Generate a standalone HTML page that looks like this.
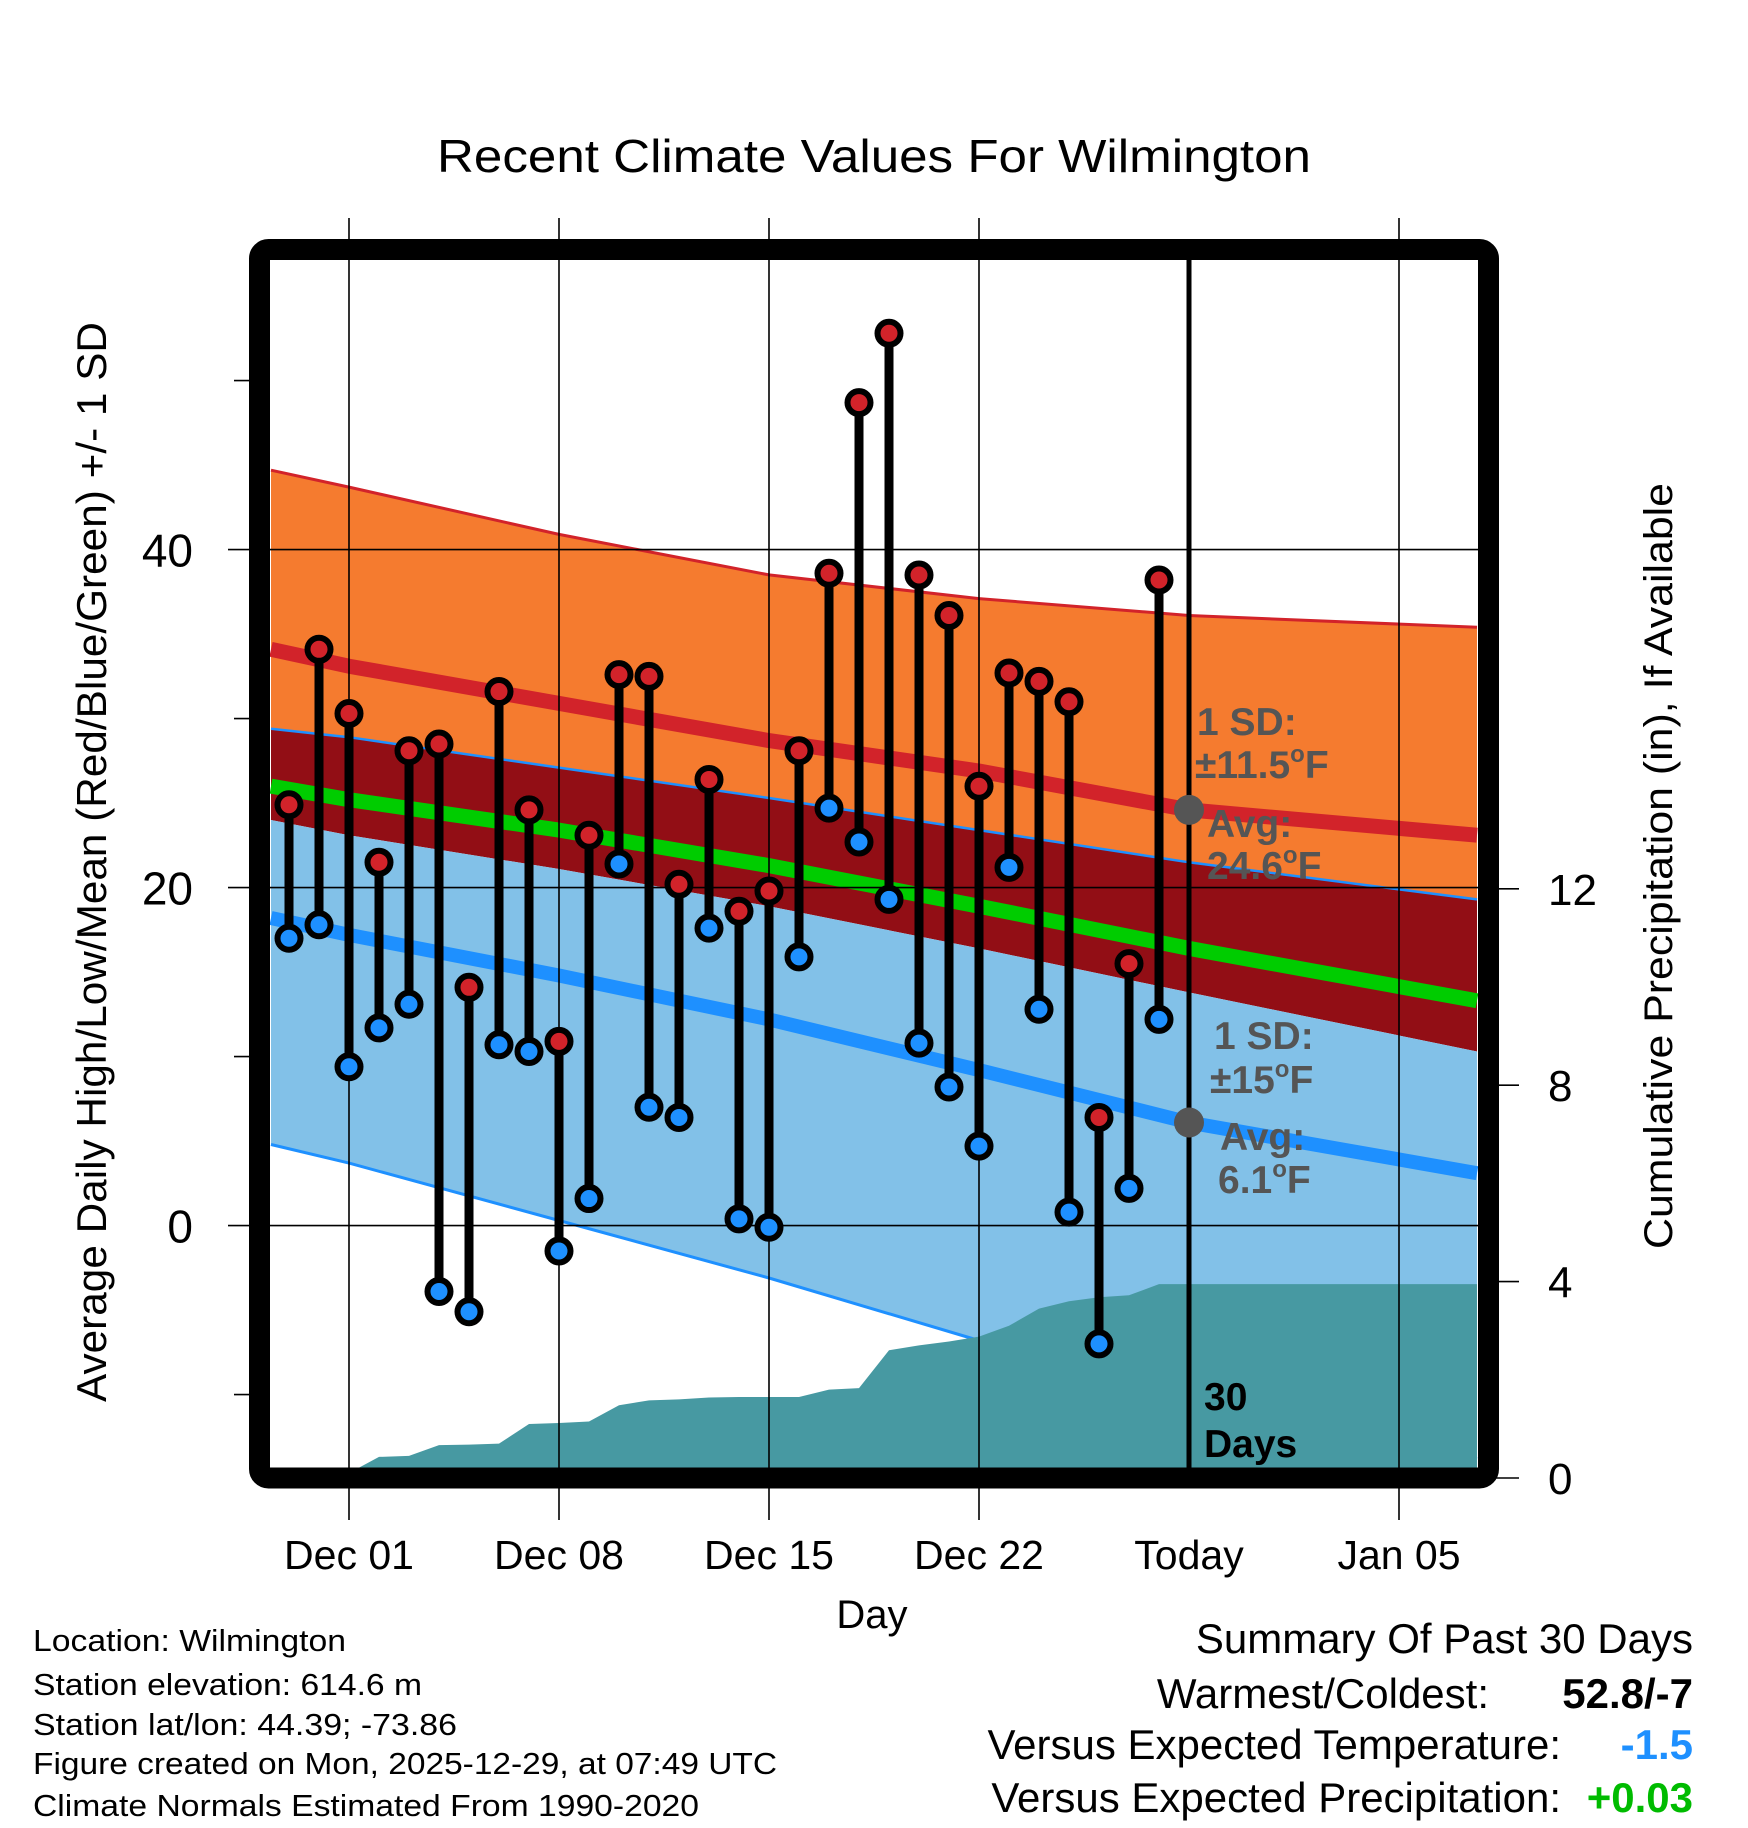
<!DOCTYPE html>
<html><head><meta charset="utf-8"><style>
html,body{margin:0;padding:0;background:#fff;}
svg{display:block;font-family:"Liberation Sans",Arial,sans-serif;}
</style></head><body>
<svg id="chart" width="1748" height="1828" viewBox="0 0 1748 1828" xmlns="http://www.w3.org/2000/svg">
<defs><clipPath id="inner"><rect x="270" y="260" width="1208" height="1208"/></clipPath></defs>
<rect x="0" y="0" width="1748" height="1828" fill="#fff"/>
<text x="874" y="172" font-size="46" text-anchor="middle" textLength="874" lengthAdjust="spacingAndGlyphs">Recent Climate Values For Wilmington</text>
<g id="plot" clip-path="url(#inner)"></g>
<g id="over"></g>
<rect x="259.5" y="249.5" width="1229" height="1228.5" rx="9" fill="none" stroke="#000" stroke-width="21"/>
<g id="axes"></g>
<text transform="translate(106,862) rotate(-90)" font-size="42" text-anchor="middle" textLength="1080" lengthAdjust="spacingAndGlyphs">Average Daily High/Low/Mean (Red/Blue/Green) +/- 1 SD</text>
<text transform="translate(1672,866) rotate(-90)" font-size="40" text-anchor="middle" textLength="766" lengthAdjust="spacingAndGlyphs">Cumulative Precipitation (in), If Available</text>
<text x="872" y="1628" font-size="40" text-anchor="middle">Day</text>
<g font-size="31">
<text x="33" y="1651" textLength="313" lengthAdjust="spacingAndGlyphs">Location: Wilmington</text>
<text x="33" y="1695" textLength="389" lengthAdjust="spacingAndGlyphs">Station elevation: 614.6 m</text>
<text x="33" y="1735" textLength="424" lengthAdjust="spacingAndGlyphs">Station lat/lon: 44.39; -73.86</text>
<text x="33" y="1774" textLength="744" lengthAdjust="spacingAndGlyphs">Figure created on Mon, 2025-12-29, at 07:49 UTC</text>
<text x="33" y="1816" textLength="666" lengthAdjust="spacingAndGlyphs">Climate Normals Estimated From 1990-2020</text>
</g>
<g font-size="42" text-anchor="end">
<text x="1693" y="1653">Summary Of Past 30 Days</text>
<text x="1489" y="1708">Warmest/Coldest:</text>
<text x="1693" y="1708" font-weight="bold">52.8/-7</text>
<text x="1561" y="1759">Versus Expected Temperature:</text>
<text x="1693" y="1759" font-weight="bold" fill="#1e90ff">-1.5</text>
<text x="1561" y="1812">Versus Expected Precipitation:</text>
<text x="1693" y="1812" font-weight="bold" fill="#00bb00">+0.03</text>
</g>
</svg>
<script>
// ---- data ----
const dayLabels = ["Dec 01","Dec 08","Dec 15","Dec 22","Today","Jan 05"];
const dayTicks = [0,7,14,21,28,35];
const obsDays = [-2,-1,0,1,2,3,4,5,6,7,8,9,10,11,12,13,14,15,16,17,18,19,20,21,22,23,24,25,26,27];
const highs = [24.9,34.1,30.3,21.5,28.1,28.5,14.1,31.6,24.6,10.9,23.1,32.6,32.5,20.2,26.4,18.6,19.8,28.1,38.6,48.7,52.8,38.5,36.1,26.0,32.7,32.2,31.0,6.4,15.5,38.2];
const lows = [17.0,17.8,9.4,11.7,13.1,-3.9,-5.1,10.7,10.3,-1.5,1.6,21.4,7.0,6.4,17.6,0.4,-0.1,15.9,24.7,22.7,19.3,10.8,8.2,4.7,21.2,12.8,0.8,-7.0,2.2,12.2];
const bandDays = [-2.6,0,7,14,21,28,37.6];
const highPlusSD = [44.7,43.7,40.9,38.5,37.1,36.1,35.4];
const highMean = [34.1,33.1,30.9,28.7,26.9,24.6,23.1];
const upperThin = [29.4,28.9,27.1,25.3,23.4,21.5,19.3];
const meanTemp = [26.0,25.2,23.4,21.3,18.9,16.4,13.3];
const darkRedBottom = [24.0,23.1,21.1,18.9,16.4,13.8,10.3];
const lowMean = [18.2,17.2,14.8,12.2,9.2,6.1,3.1];
const lowMinusSD = [4.8,3.7,0.3,-3.1,-6.8,-10.4,-13.8];
const precipDays = [0.3,1,2,3,4,5,6,7,8,9,10,11,12,13,14,15,16,17,18,19,20,21,22,23,24,25,26,27,37.6];
const precipVals = [0.2,0.43,0.45,0.67,0.68,0.7,1.1,1.12,1.15,1.48,1.58,1.6,1.64,1.65,1.65,1.65,1.8,1.83,2.6,2.7,2.78,2.88,3.1,3.45,3.6,3.68,3.72,3.95,3.95];
const tempTicks = [0,20,40];
const tempMinor = [-10,10,30,50];
const precipTicks = [0,4,8,12];
const todayDay = 28;

// ---- scales ----
function xs(d){return 349+30*d;}
function ys(t){return 1225.6-16.9*t;}
function yp(p){return 1478-49.1*p;}
const NS="http://www.w3.org/2000/svg";
function mk(tag,attrs,parent){const e=document.createElementNS(NS,tag);for(const k in attrs)e.setAttribute(k,attrs[k]);parent.appendChild(e);return e;}
const plot=document.getElementById('plot'), over=document.getElementById('over'), axes=document.getElementById('axes');
function pts(days,vals,f){return days.map((d,i)=>xs(d).toFixed(1)+','+f(vals[i]).toFixed(1));}
function band(top,bot,fill,name){
  const p=pts(bandDays,top,ys).concat(pts(bandDays,bot,ys).reverse()).join(' ');
  const e=mk('polygon',{points:p,fill:fill},plot);
  
  
}
function line(vals,color,w,name){
  const e=mk('polyline',{points:pts(bandDays,vals,ys).join(' '),fill:'none',stroke:color,'stroke-width':w,'stroke-linejoin':'round'},plot);
  
  
}
band(highPlusSD,upperThin,'#f57b2f','high-sd-band');
band(upperThin,darkRedBottom,'#920e15','mean-sd-band');
band(darkRedBottom,lowMinusSD,'#82c1e8','low-sd-band');
line(highPlusSD,'#d2232a',3,'high-plus-sd-line');
line(highMean,'#d2232a',15,'high-mean-line');
line(upperThin,'#1e90ff',2.5,'upper-thin-line');
line(meanTemp,'#00cc00',15,'mean-temp-line');
line(lowMean,'#1e90ff',14,'low-mean-line');
line(lowMinusSD,'#1e90ff',3,'low-minus-sd-line');
// precip
{
  const p=pts(precipDays,precipVals,yp);
  p.unshift(xs(precipDays[0]).toFixed(1)+','+yp(0));
  p.push(xs(precipDays[precipDays.length-1]).toFixed(1)+','+yp(0));
  const e=mk('polygon',{points:p.join(' '),fill:'#4799a2'},plot);
  
  
}
// gridlines
dayTicks.forEach((d,i)=>{
  const isToday=d===todayDay;
  const g=mk('line',{x1:xs(d),x2:xs(d),y1:isToday?255:218,y2:isToday?1472:1520,stroke:'#000','stroke-width':isToday?5:1.6},over);
  
  
  const t=mk('text',{x:xs(d),y:1569,'font-size':41,'text-anchor':'middle'},axes);
  t.textContent=dayLabels[i];
  
  
});
tempTicks.forEach(v=>{
  const g=mk('line',{x1:228,x2:1478,y1:ys(v),y2:ys(v),stroke:'#000','stroke-width':1.6},over);
  
  
  const t=mk('text',{x:193,y:ys(v)+17,'font-size':46,'text-anchor':'end'},axes);
  t.textContent=String(v);
  
  
});
tempMinor.forEach(v=>{
  const g=mk('line',{x1:234,x2:260,y1:ys(v),y2:ys(v),stroke:'#000','stroke-width':1.6},axes);
  
  
});
precipTicks.forEach(v=>{
  const g=mk('line',{x1:1490,x2:1519,y1:yp(v),y2:yp(v),stroke:'#000','stroke-width':1.6},axes);
  
  
  const t=mk('text',{x:1548,y:yp(v)+16,'font-size':44},axes);
  t.textContent=String(v);
  
  
});
// stems and dots
obsDays.forEach((d,i)=>{
  const s=mk('line',{x1:xs(d),x2:xs(d),y1:ys(highs[i]),y2:ys(lows[i]),stroke:'#000','stroke-width':9},over);
  
  
});
obsDays.forEach((d,i)=>{
  const h=mk('circle',{cx:xs(d),cy:ys(highs[i]),r:11.5,fill:'#d2232a',stroke:'#000','stroke-width':6},over);
  
  
  const l=mk('circle',{cx:xs(d),cy:ys(lows[i]),r:11.5,fill:'#1e90ff',stroke:'#000','stroke-width':6},over);
  
  
});
// today markers
{
  const a=mk('circle',{cx:xs(todayDay),cy:ys(highMean[5]),r:15,fill:'#555'},over);
  
  
  const b=mk('circle',{cx:xs(todayDay),cy:ys(lowMean[5]),r:15,fill:'#555'},over);
  
  
}
function lab(x,y,main,deg,tail,name,fill){
  const t=mk('text',{x:x,y:y,'font-size':39,'font-weight':'bold',fill:fill||'#555'},over);
  
  
  const a=mk('tspan',{},t);a.textContent=main;
  if(deg){const o=mk('tspan',{'font-size':24,dy:-16},t);o.textContent='o';const f=mk('tspan',{dy:16},t);f.textContent=tail;}
}
lab(1197,735,'1 SD:',false,'','high-sd-label');
lab(1195,778,'\u00b111.5',true,'F','high-sd-value');
lab(1207,837,'Avg:',false,'','high-avg-label');
lab(1207,879,'24.6',true,'F','high-avg-value');
lab(1214,1049,'1 SD:',false,'','low-sd-label');
lab(1210,1093,'\u00b115',true,'F','low-sd-value');
lab(1220,1150,'Avg:',false,'','low-avg-label');
lab(1218,1193,'6.1',true,'F','low-avg-value');
lab(1204,1410,'30',false,'','days-label-number','#000');
lab(1204,1457,'Days',false,'','days-label-word','#000');
</script>
</body></html>
